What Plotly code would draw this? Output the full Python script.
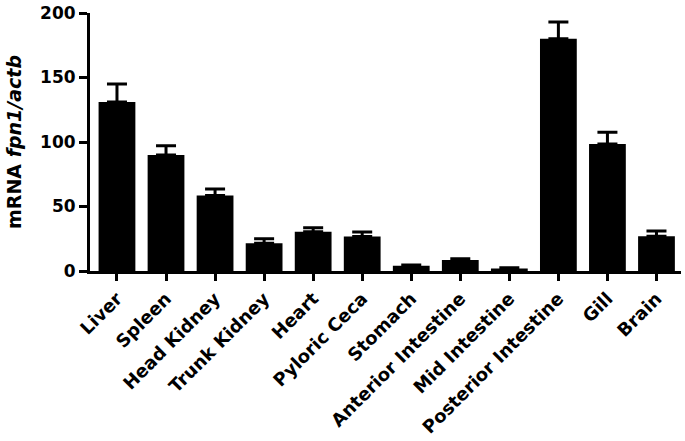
import plotly.graph_objects as go

categories = ["Liver", "Spleen", "Head Kidney", "Trunk Kidney", "Heart", "Pyloric Ceca",
              "Stomach", "Anterior Intestine", "Mid Intestine", "Posterior Intestine",
              "Gill", "Brain"]
means = [131, 90, 58.5, 21.5, 30.5, 26.7, 4.1, 8.5, 2.0, 180, 98.5, 27]
sem = [14, 7, 5, 3.5, 3, 3.5, 0.6, 1.0, 0.5, 13, 9, 4]
zeros = [0] * len(sem)
yticks = [0, 50, 100, 150, 200]

font_family = "DejaVu Sans, Liberation Sans, Arial, sans-serif"

fig = go.Figure(go.Bar(
    x=categories, y=means,
    marker=dict(color="black", line=dict(width=0)),
    error_y=dict(type="data", array=sem, arrayminus=zeros, symmetric=False,
                 color="black", thickness=3, width=10),
))

fig.update_layout(
    width=685, height=441,
    margin=dict(l=90, r=4, t=13, b=170),
    paper_bgcolor="white", plot_bgcolor="white",
    bargap=0.25,
    showlegend=False,
    font=dict(family=font_family, color="black"),
)
fig.update_xaxes(
    range=[-0.55, 11.5],
    automargin=False,
    showline=True, linecolor="black", linewidth=3,
    ticks="outside", ticklen=7, tickwidth=3, tickcolor="black",
    tickangle=-45,
    tickfont=dict(family=font_family, size=18, color="black", weight="bold"),
    showgrid=False, zeroline=False,
)
fig.update_yaxes(
    range=[0, 200],
    automargin=False,
    ticklabeloverflow="allow",
    tickvals=yticks,
    showline=True, linecolor="black", linewidth=3,
    ticks="outside", ticklen=8, tickwidth=3, tickcolor="black",
    tickfont=dict(family=font_family, size=17, color="black", weight="bold"),
    title=dict(text="mRNA <i>fpn1/actb</i>", standoff=14,
               font=dict(family=font_family, size=19, color="black", weight="bold")),
    showgrid=False, zeroline=False,
)

fig.write_html("out.html", config={"displayModeBar": False},
               post_script="document.body.style.margin='0';")
